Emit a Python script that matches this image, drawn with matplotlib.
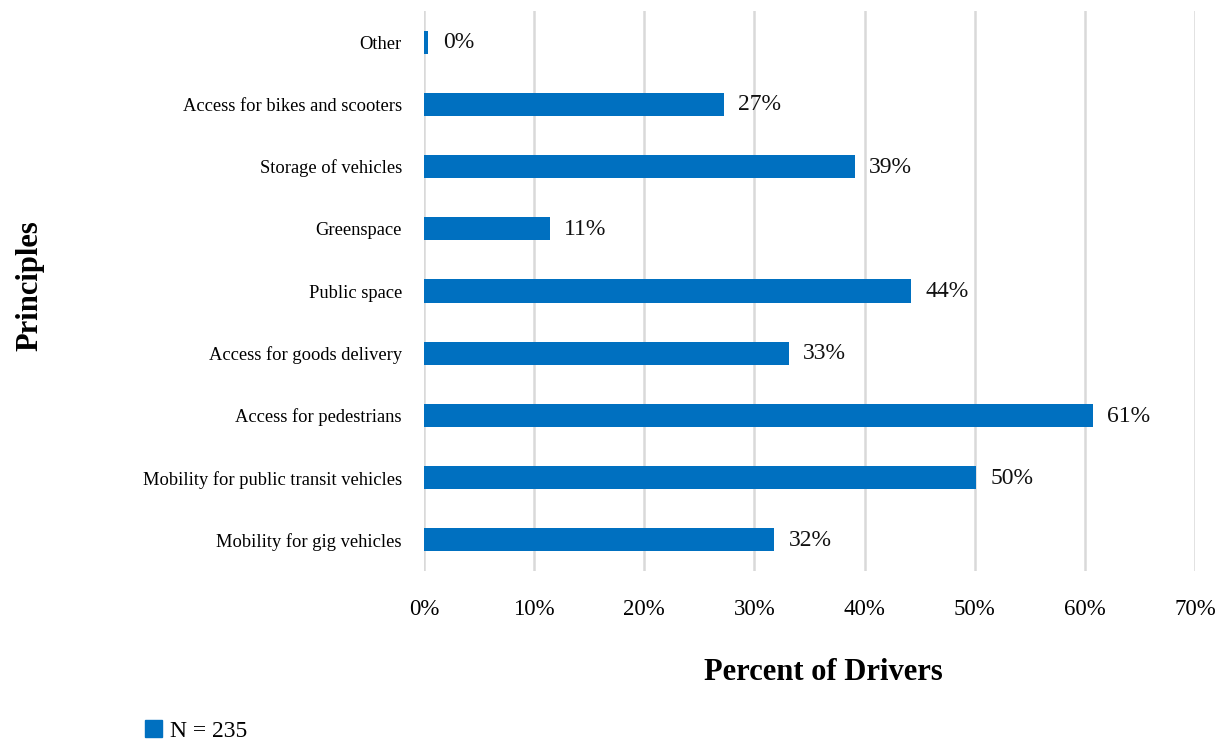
import matplotlib.pyplot as plt
from matplotlib.patches import Patch
from matplotlib.ticker import FuncFormatter

# Categories listed bottom to top
principles = [
    "Mobility for gig vehicles",
    "Mobility for public transit vehicles",
    "Access for pedestrians",
    "Access for goods delivery",
    "Public space",
    "Greenspace",
    "Storage of vehicles",
    "Access for bikes and scooters",
    "Other",
]
percent = [31.8, 50.1, 60.7, 33.1, 44.2, 11.4, 39.1, 27.2, 0.4]
value_labels = ["32%", "50%", "61%", "33%", "44%", "11%", "39%", "27%", "0%"]
legend_label = "N = 235"

bar_color = "#0070C0"
grid_color = "#d9d9d9"

plt.rcParams["font.family"] = ["Liberation Serif", "DejaVu Serif"]

fig = plt.figure(figsize=(12.17, 7.4), dpi=100)
ax = fig.add_axes([424 / 1217, 1 - 571 / 740, (1195 - 424) / 1217, (571 - 11) / 740])

y = list(range(len(principles)))
bars = ax.barh(y, percent, height=0.37, color=bar_color, zorder=3)

for bar, lab in zip(bars, value_labels):
    ax.text(bar.get_width() + 1.3, bar.get_y() + bar.get_height() / 2 - 0.01, lab,
            va="center", ha="left", fontsize=17, color="#111111")

ax.set_xlim(0, 70)
ax.set_ylim(-0.5, len(principles) - 0.5)
ax.set_xticks(range(0, 71, 10))
ax.xaxis.set_major_formatter(FuncFormatter(lambda v, p: f"{int(v)}%"))
ax.set_yticks(y)
ax.set_yticklabels(principles, fontsize=13.3)
ax.tick_params(axis="x", labelsize=16.5, length=0, pad=20)
ax.tick_params(axis="y", length=0, pad=16)
ax.grid(True, axis="x", color=grid_color, linewidth=1.8, zorder=0)
for s in ax.spines.values():
    s.set_visible(False)

fig.text(823 / 1217, 1 - 673 / 740, "Percent of Drivers", ha="center", va="center",
         fontsize=22, fontweight="bold")
fig.text(30 / 1217, 1 - 286 / 740, "Principles", ha="center", va="center",
         rotation=90, fontsize=22, fontweight="bold")

fig.legend(handles=[Patch(color=bar_color)], labels=[legend_label],
           loc="center left", bbox_to_anchor=(124 / 1217, 1 - 731 / 740),
           frameon=False, fontsize=17, handlelength=0.7, handleheight=0.7,
           handletextpad=0.35)

fig.savefig("out.png", dpi=100)
